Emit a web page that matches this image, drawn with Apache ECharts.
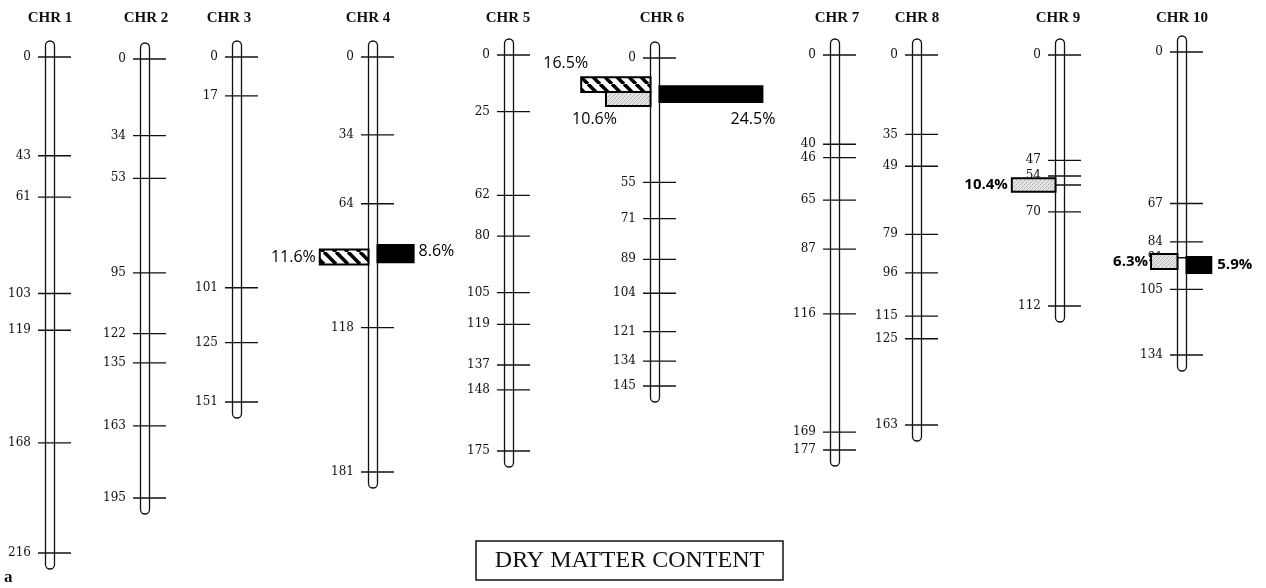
<!DOCTYPE html>
<html>
<head>
<meta charset="utf-8">
<style>
  html, body { margin: 0; padding: 0; background: #fff; }
  #chart { width: 1266px; height: 588px; }
</style>
</head>
<body>
<div id="chart"></div>
<script src="https://cdn.jsdelivr.net/npm/echarts@6/dist/echarts.min.js"></script>
<script>
// linkage groups, marker positions in cM
var chrNames = ['CHR 1', 'CHR 2', 'CHR 3', 'CHR 4', 'CHR 5', 'CHR 6', 'CHR 7', 'CHR 8', 'CHR 9', 'CHR 10'];
var chr1 = [0, 43, 61, 103, 119, 168, 216];
var chr2 = [0, 34, 53, 95, 122, 135, 163, 195];
var chr3 = [0, 17, 101, 125, 151];
var chr4 = [0, 34, 64, 118, 181];
var chr5 = [0, 25, 62, 80, 105, 119, 137, 148, 175];
var chr6 = [0, 55, 71, 89, 104, 121, 134, 145];
var chr7 = [0, 40, 46, 65, 87, 116, 169, 177];
var chr8 = [0, 35, 49, 79, 96, 115, 125, 163];
var chr9 = [0, 47, 54, 58, 70, 112];
var chr10 = [0, 67, 84, 91, 105, 134];
var markers = [chr1, chr2, chr3, chr4, chr5, chr6, chr7, chr8, chr9, chr10];

// QTLs for dry matter content (chromosome index, kind, interval in cM, % variance)
var qtlChr = [3, 3, 5, 5, 5, 8, 9, 9];
var qtlKind = ['hatched', 'black', 'hatched', 'grey', 'black', 'grey', 'grey', 'black'];
var qtlFrom = [84, 82, 8.5, 15, 12.5, 55, 89.3, 90.7];
var qtlTo = [90.5, 89.5, 15, 21.2, 19.5, 61, 96, 97.7];
var qtlPct = [11.6, 8.6, 16.5, 10.6, 24.5, 10.4, 6.3, 5.9];

// layout, pixels
var chrX = [50, 145, 237, 373, 509, 655, 835, 917, 1060, 1182];
var chrTop = [57, 59, 57, 57, 55, 58, 55, 55, 55, 52];
var chrBottom = [553, 498, 402, 472, 451, 386, 450, 425, 306, 355];
var titleX = [50, 146, 229, 368, 508, 662, 837, 917, 1058, 1182];
var PX_PER_PCT = 4.2;
var HALF = 10;
// label placement: align, x anchor (L/R of bar), dx, y anchor (T/M/B), dy, bold
var qtlLabel = [
  ['right', 'L', -4, 'M', 0, false],
  ['left', 'R', 5, 'M', -2, false],
  ['right', 'L', 7, 'T', -14, false],
  ['right', 'L', 11, 'B', 13, false],
  ['right', 'R', 13, 'B', 17, false],
  ['right', 'L', -4, 'M', 0, true],
  ['right', 'L', -3, 'M', 0, true],
  ['left', 'R', 6, 'M', 0, true]
];

function makeHatch() {
  var c = document.createElement('canvas');
  c.width = 12; c.height = 12;
  var g = c.getContext('2d');
  g.fillStyle = '#fff';
  g.fillRect(0, 0, 12, 12);
  g.strokeStyle = '#000';
  g.lineWidth = 3.6;
  [-12, 0, 12].forEach(function (o) {
    g.beginPath();
    g.moveTo(o, 0);
    g.lineTo(o + 12, 12);
    g.stroke();
  });
  return c;
}
function makeStipple() {
  var c = document.createElement('canvas');
  c.width = 4; c.height = 4;
  var g = c.getContext('2d');
  g.fillStyle = '#e4e4e4';
  g.fillRect(0, 0, 4, 4);
  g.fillStyle = '#a8a8a8';
  g.fillRect(0, 0, 1, 1);
  g.fillRect(2, 2, 1, 1);
  g.fillStyle = '#c4c4c4';
  g.fillRect(3, 1, 1, 1);
  g.fillRect(1, 3, 1, 1);
  return c;
}
var fills = {
  hatched: { image: makeHatch(), repeat: 'repeat' },
  grey: { image: makeStipple(), repeat: 'repeat' },
  black: '#000'
};

var chart = echarts.init(document.getElementById('chart'));

var grids = [], xAxes = [], yAxes = [], series = [], titles = [];
chrNames.forEach(function (name, i) {
  var m = markers[i];
  grids.push({
    left: chrX[i] - HALF * PX_PER_PCT,
    width: 2 * HALF * PX_PER_PCT,
    top: chrTop[i],
    height: chrBottom[i] - chrTop[i]
  });
  xAxes.push({ type: 'value', gridIndex: i, min: -HALF, max: HALF, show: false });
  yAxes.push({ type: 'value', gridIndex: i, min: 0, max: m[m.length - 1], inverse: true, show: false });
  titles.push({
    text: name, left: titleX[i], top: 11, textAlign: 'center', padding: 0,
    textStyle: { fontFamily: 'Liberation Serif', fontSize: 15, fontWeight: 'bold', color: '#111' }
  });
  // chromosome body
  series.push({
    type: 'custom', xAxisIndex: i, yAxisIndex: i, z: 2,
    data: [[0, 0, m[m.length - 1]]],
    encode: { x: 0, y: [1, 2] },
    renderItem: function (params, api) {
      var a = api.coord([0, api.value(1)]);
      var b = api.coord([0, api.value(2)]);
      return {
        type: 'rect',
        shape: { x: a[0] - 4.5, y: a[1] - 16, width: 9, height: b[1] - a[1] + 32, r: 4.5 },
        style: { fill: '#fff', stroke: '#111', lineWidth: 1.3 }
      };
    }
  });
  // markers
  series.push({
    type: 'custom', xAxisIndex: i, yAxisIndex: i, z: 3,
    data: m.map(function (v) { return [0, v]; }),
    encode: { x: 0, y: 1 },
    renderItem: function (params, api) {
      var p = api.coord([0, api.value(1)]);
      return {
        type: 'group',
        children: [
          { type: 'line', shape: { x1: p[0] - 12, y1: p[1], x2: p[0] + 21, y2: p[1] },
            style: { stroke: '#111', lineWidth: 1.3 } },
          { type: 'text', style: { text: String(api.value(1)), x: p[0] - 19, y: p[1],
            align: 'right', verticalAlign: 'middle', fill: '#111',
            fontFamily: 'DejaVu Serif', fontSize: 12 } }
        ]
      };
    }
  });
});

// QTL bars
qtlChr.forEach(function (c, k) {
  var kind = qtlKind[k];
  var lab = qtlLabel[k];
  series.push({
    type: 'custom', xAxisIndex: c, yAxisIndex: c, z: 5,
    data: [[qtlPct[k], qtlFrom[k], qtlTo[k]]],
    encode: { x: 0, y: [1, 2] },
    renderItem: function (params, api) {
      var pct = api.value(0);
      var onLeft = kind !== 'black';
      var a = api.coord([onLeft ? -pct : 0, api.value(1)]);
      var b = api.coord([onLeft ? 0 : pct, api.value(2)]);
      var off = onLeft ? -4.5 : 4.5;
      var x0 = a[0] + off, x1 = b[0] + off, y0 = a[1], y1 = b[1];
      var tx = (lab[1] === 'L' ? x0 : x1) + lab[2];
      var ty = (lab[3] === 'T' ? y0 : lab[3] === 'B' ? y1 : (y0 + y1) / 2) + lab[4];
      return {
        type: 'group',
        children: [
          { type: 'rect', shape: { x: x0, y: y0, width: x1 - x0, height: y1 - y0 },
            style: { fill: fills[kind], stroke: '#000', lineWidth: 2 } },
          { type: 'text', style: { text: pct.toFixed(1) + '%', x: tx, y: ty,
            align: lab[0], verticalAlign: 'middle', fill: '#000',
            fontFamily: 'Open Sans', fontSize: lab[5] ? 15 : 16,
            fontWeight: lab[5] ? 'bold' : 'normal' } }
        ]
      };
    }
  });
});

chart.setOption({
  animation: false,
  backgroundColor: '#fff',
  title: titles,
  grid: grids,
  xAxis: xAxes,
  yAxis: yAxes,
  series: series,
  graphic: [
    { type: 'rect', shape: { x: 476, y: 541, width: 307, height: 39 },
      style: { fill: 'none', stroke: '#111', lineWidth: 1.5 } },
    { type: 'text', x: 629.5, y: 561,
      style: { text: 'DRY MATTER CONTENT', align: 'center', verticalAlign: 'middle',
        fontFamily: 'Liberation Serif', fontSize: 24, fill: '#111' } },
    { type: 'text', x: 4, y: 578,
      style: { text: 'a', verticalAlign: 'middle', fontFamily: 'Liberation Serif',
        fontSize: 17, fontWeight: 'bold', fill: '#111' } }
  ]
});
</script>
</body>
</html>
